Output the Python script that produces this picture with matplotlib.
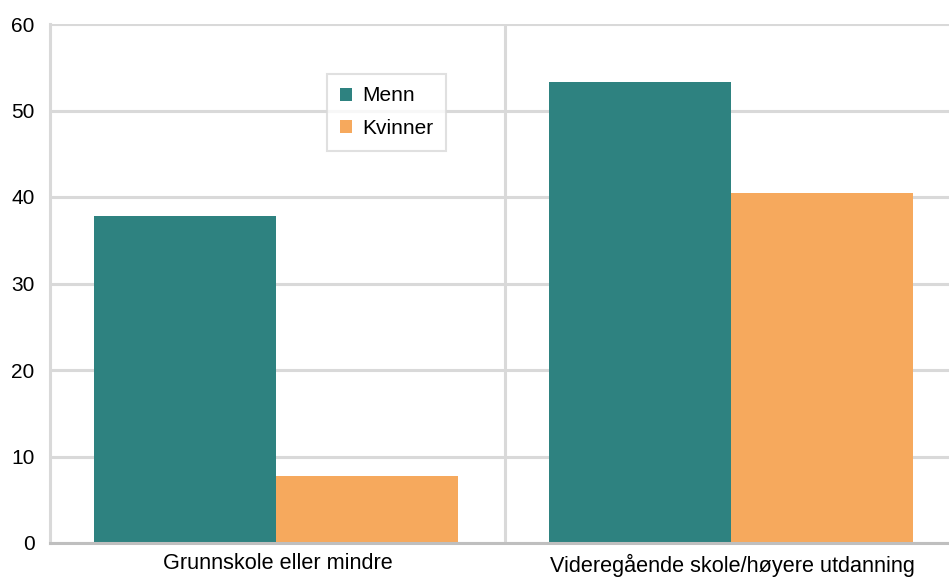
import numpy as np
import matplotlib.pyplot as plt

plt.rcParams["font.family"] = ["Liberation Sans", "DejaVu Sans"]

categories = ["Grunnskole eller mindre", "Videregående skole/høyere utdanning"]
menn = [37.8, 53.3]
kvinner = [7.7, 40.5]

W, H = 949, 577
fig = plt.figure(figsize=(W / 100, H / 100), dpi=100)
left, right, bottom, top = 50, 949, 543, 24
ax = fig.add_axes([left / W, 1 - bottom / H, (right - left) / W, (bottom - top) / H])

x = np.arange(len(categories))
bw = 0.4
ax.bar(x - bw / 2 - 0.004, menn, bw, color="#2e8280", label="Menn", zorder=3)
ax.bar(x + bw / 2 - 0.004, kvinner, bw, color="#f6a95d", label="Kvinner", zorder=3)

fs = 15
ax.set_ylim(0, 60)
ax.set_xlim(-0.5, -0.5 + (right - left) / 455)
ax.set_yticks(range(0, 61, 10))
ax.set_xticks(x)
ax.set_xticklabels(categories, fontsize=15.6)
ax.tick_params(axis="y", labelsize=fs, length=0, pad=11)
ax.tick_params(axis="x", length=0, pad=7.5)

ax.grid(axis="y", color="#d9d9d9", linewidth=2.2, zorder=0)
ax.axvline(0.5, color="#d9d9d9", linewidth=2.2, zorder=0)
for s in ["top", "right"]:
    ax.spines[s].set_visible(False)
ax.spines["left"].set_color("#d9d9d9")
ax.spines["left"].set_linewidth(2.2)
ax.spines["bottom"].set_color("#bfbfbf")
ax.spines["bottom"].set_linewidth(2.2)
ax.spines["bottom"].set_zorder(4)

leg = ax.legend(loc="upper left", bbox_to_anchor=((327 - left) / (right - left), (bottom - 74) / (bottom - top)),
                fontsize=fs, frameon=True, fancybox=False, handlelength=0.6, handleheight=0.6,
                handletextpad=0.5, labelspacing=0.65, borderpad=0.6, borderaxespad=0)
leg.get_frame().set_edgecolor("#d9d9d9")
leg.get_frame().set_linewidth(1.5)

fig.savefig("out.png", dpi=100)
